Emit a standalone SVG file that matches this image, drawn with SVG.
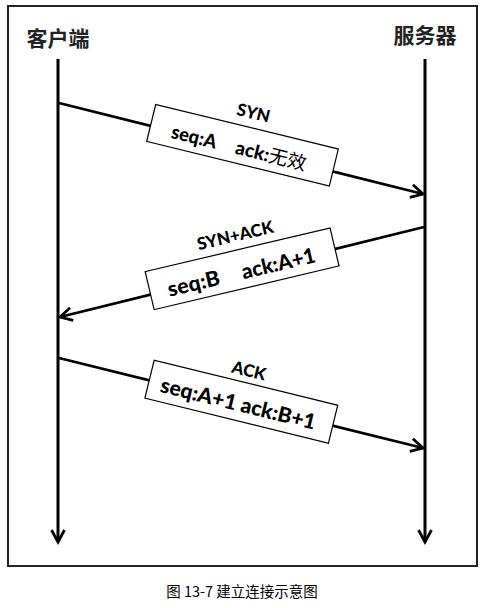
<svg xmlns="http://www.w3.org/2000/svg" width="487" height="608" viewBox="0 0 487 608">
<style>
.frame{fill:#fff;stroke:#222;stroke-width:2}
.life{stroke:#000;stroke-width:3;fill:none}
.msg{stroke:#000;stroke-width:2.8;fill:none}
.box{fill:#fff;stroke:#000;stroke-width:1.2}
.title{font-family:"Noto Sans CJK SC",sans-serif;font-weight:bold;font-size:21px;fill:#222;text-anchor:middle}
.lbl{font-family:Lato,"Noto Sans CJK SC",sans-serif;font-weight:900;fill:#000}
.hd{font-size:17px;text-anchor:middle}
.r1{font-size:19px}
.r2{font-size:21px}
.cjk{font-family:"Noto Sans CJK SC",sans-serif;font-weight:normal}
.cap{font-family:"Noto Sans CJK SC",sans-serif;font-size:14.5px;fill:#000;text-anchor:middle}
</style>
<defs>
<marker id="ah" markerUnits="userSpaceOnUse" markerWidth="20" markerHeight="20" viewBox="-15 -10 20 20" refX="0" refY="0" orient="auto">
<path d="M-12,-6.5 L0,0 L-12,6.5" fill="none" stroke="#000" stroke-width="2.8" stroke-linejoin="miter"/>
</marker>
</defs>
<rect class="frame" x="8" y="6" width="469" height="560"/>
<g id="client"><text class="title" x="58" y="46">客户端</text></g>
<g id="server"><text class="title" x="425" y="43">服务器</text></g>
<g id="connectors">
<line class="life" x1="58" y1="59" x2="58" y2="542" marker-end="url(#ah)"/>
<line class="life" x1="425" y1="59" x2="425" y2="542" marker-end="url(#ah)"/>
<line class="msg" x1="59" y1="103" x2="423" y2="194" marker-end="url(#ah)"/>
<line class="msg" x1="424" y1="227" x2="60" y2="317" marker-end="url(#ah)"/>
<line class="msg" x1="59" y1="358" x2="423" y2="448" marker-end="url(#ah)"/>
</g>
<g id="msg-syn" transform="translate(242.5,145.2) rotate(13.7)">
<rect class="box" x="-94" y="-19" width="188" height="38"/>
<text class="lbl hd" x="3" y="-28">SYN</text>
<text class="lbl r1" x="-72" y="10" textLength="46" lengthAdjust="spacingAndGlyphs">seq:A</text>
<text class="lbl r1" x="-6" y="10">ack:<tspan class="cjk">无效</tspan></text>
</g>
<g id="msg-synack" transform="translate(242.1,268.8) rotate(-13.3)">
<rect class="box" x="-95" y="-19.5" width="190" height="39"/>
<text class="lbl hd" x="1" y="-28">SYN+ACK</text>
<text class="lbl r2" x="-77" y="10.5" textLength="53" lengthAdjust="spacingAndGlyphs">seq:B</text>
<text class="lbl r2" x="-1" y="10.5" textLength="75" lengthAdjust="spacingAndGlyphs">ack:A+1</text>
</g>
<g id="msg-ack" transform="translate(241.3,401.7) rotate(13.8)">
<rect class="box" x="-94.5" y="-19.5" width="189" height="39"/>
<text class="lbl hd" x="0" y="-26">ACK</text>
<text class="lbl r2" x="-82" y="10" textLength="159" lengthAdjust="spacingAndGlyphs">seq:A+1 ack:B+1</text>
</g>
<text class="cap" x="242" y="597">图 13-7 建立连接示意图</text>
</svg>
